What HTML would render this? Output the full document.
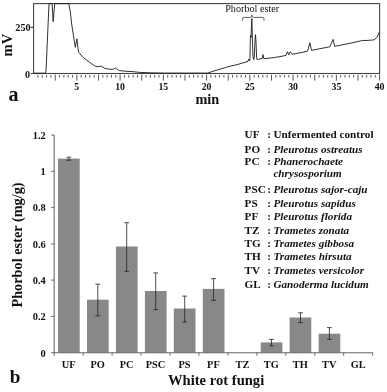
<!DOCTYPE html>
<html><head><meta charset="utf-8"><title>Phorbol ester</title>
<style>
html,body{margin:0;padding:0;background:#fff}
svg{display:block;will-change:transform;opacity:0.999}
text{font-family:"Liberation Serif","DejaVu Serif",serif;fill:#111}
</style></head><body>
<svg width="387" height="392" viewBox="0 0 387 392">
<rect width="387" height="392" fill="#fff"/>
<g fill="none" stroke="#444" stroke-width="1.1">
<rect x="33.6" y="3.6" width="346.0" height="69.9"/>
<path d="M37.93,75.1v2.5M42.25,75.1v2.5M46.58,75.1v2.5M50.90,75.1v2.5M55.23,74.6v6M59.55,75.1v2.5M63.88,75.1v2.5M68.20,75.1v2.5M72.53,75.1v2.5M76.85,74.6v6M81.18,75.1v2.5M85.50,75.1v2.5M89.83,75.1v2.5M94.15,75.1v2.5M98.47,74.6v6M102.80,75.1v2.5M107.12,75.1v2.5M111.45,75.1v2.5M115.78,75.1v2.5M120.10,74.6v6M124.43,75.1v2.5M128.75,75.1v2.5M133.08,75.1v2.5M137.40,75.1v2.5M141.72,74.6v6M146.05,75.1v2.5M150.38,75.1v2.5M154.70,75.1v2.5M159.03,75.1v2.5M163.35,74.6v6M167.68,75.1v2.5M172.00,75.1v2.5M176.32,75.1v2.5M180.65,75.1v2.5M184.97,74.6v6M189.30,75.1v2.5M193.62,75.1v2.5M197.95,75.1v2.5M202.28,75.1v2.5M206.60,74.6v6M210.93,75.1v2.5M215.25,75.1v2.5M219.57,75.1v2.5M223.90,75.1v2.5M228.22,74.6v6M232.55,75.1v2.5M236.88,75.1v2.5M241.20,75.1v2.5M245.53,75.1v2.5M249.85,74.6v6M254.18,75.1v2.5M258.50,75.1v2.5M262.83,75.1v2.5M267.15,75.1v2.5M271.48,74.6v6M275.80,75.1v2.5M280.12,75.1v2.5M284.45,75.1v2.5M288.78,75.1v2.5M293.10,74.6v6M297.43,75.1v2.5M301.75,75.1v2.5M306.08,75.1v2.5M310.40,75.1v2.5M314.73,74.6v6M319.05,75.1v2.5M323.38,75.1v2.5M327.70,75.1v2.5M332.03,75.1v2.5M336.35,74.6v6M340.68,75.1v2.5M345.00,75.1v2.5M349.33,75.1v2.5M353.65,75.1v2.5M357.98,74.6v6M362.30,75.1v2.5M366.63,75.1v2.5M370.95,75.1v2.5M375.28,75.1v2.5M379.60,74.6v6" stroke="#555" stroke-width="1"/>
<path d="M30.8,27.4h2.8M30.8,73.5h2.8"/>
<polyline points="33.8,73.2 45.4,73.2 45.9,72.0 46.5,60.0 49.0,3.6 52.1,3.6 53.2,21.7 54.7,3.6 68.7,3.6 70.2,11.0 71.8,25.0 75.3,47.3 76.9,38.8 78.5,52.2 81.9,56.0 83.4,57.6 86.5,59.9 89.6,62.3 92.5,64.5 95.8,66.5 98.9,66.6 101.0,66.0 103.0,67.3 105.1,68.5 108.5,69.0 112.4,69.5 115.5,68.1 117.5,69.5 119.6,70.6 125.0,71.2 132.0,71.6 140.2,72.4 150.0,72.8 165.0,73.1 207.7,73.1 212.0,71.6 217.5,69.9 225.3,67.6 230.8,66.0 236.0,64.9 241.7,63.3 246.0,62.0 248.0,61.3 248.6,59.0 249.4,60.8 249.9,60.5 250.4,37.0 250.7,35.3 251.0,37.5 251.3,30.0 251.8,18.5 252.3,35.0 252.9,55.0 253.4,59.3 253.8,59.8 254.3,57.0 255.0,40.0 255.5,34.6 256.0,42.0 256.6,57.0 257.2,59.8 258.5,59.3 260.7,58.8 262.2,58.5 263.0,54.6 263.8,58.6 265.0,58.7 274.2,57.5 280.0,56.6 286.0,55.4 287.5,51.8 288.8,54.8 290.5,51.8 292.2,54.3 300.0,52.8 307.6,51.2 309.9,42.7 311.5,50.4 320.0,48.7 329.8,46.8 333.1,39.4 334.7,46.3 349.1,43.5 360.2,41.0 362.9,40.4 366.0,40.5 374.0,39.9 377.3,37.1 379.0,32.4" stroke="#1a1a1a" stroke-width="0.9" stroke-linejoin="round"/>
<path d="M242.6,20.6v-1.6q0,-1.6 1.6,-1.6h6q1.5,0 1.55,-2.3q0.05,2.3 1.55,2.3h9.1q1.6,0 1.6,1.6v1.6" stroke-width="0.8" stroke="#333"/>
</g>
<g font-weight="bold" font-size="9.8"><text x="76.8" y="89.8" text-anchor="middle">5</text><text x="120.1" y="89.8" text-anchor="middle">10</text><text x="163.3" y="89.8" text-anchor="middle">15</text><text x="206.6" y="89.8" text-anchor="middle">20</text><text x="249.8" y="89.8" text-anchor="middle">25</text><text x="293.1" y="89.8" text-anchor="middle">30</text><text x="336.4" y="89.8" text-anchor="middle">35</text><text x="379.6" y="89.8" text-anchor="middle">40</text>
<text x="30.6" y="31" text-anchor="end" font-size="10.2">250</text>
<text x="30.2" y="77.5" text-anchor="end" font-size="10.2">0</text>
</g>
<text x="225.2" y="11.9" font-size="10.2" fill="#222">Phorbol ester</text>
<text transform="translate(12,56.4) rotate(-90)" font-size="14.6" font-weight="bold">mV</text>
<text x="195.4" y="104.4" font-size="14.3" font-weight="bold">min</text>
<text x="8.6" y="100.5" font-size="20" font-weight="bold">a</text>
<text x="9.8" y="382.7" font-size="19.2" font-weight="bold">b</text>
<g fill="#888"><rect x="58.0" y="158.6" width="21.7" height="194.1"/><rect x="87.0" y="299.7" width="21.7" height="53.0"/><rect x="115.9" y="246.5" width="21.7" height="106.2"/><rect x="144.9" y="291.0" width="21.7" height="61.7"/><rect x="173.8" y="308.5" width="21.7" height="44.2"/><rect x="202.8" y="288.9" width="21.7" height="63.8"/><rect x="260.7" y="342.4" width="21.7" height="10.3"/><rect x="289.6" y="317.5" width="21.7" height="35.2"/><rect x="318.6" y="333.7" width="21.7" height="19.0"/></g>
<g fill="none" stroke="#777" stroke-width="1.2"><path d="M54.2,135.0V352.7"/><path d="M53.6,352.7H372.6" stroke="#666" stroke-width="1.1"/><path d="M54.2,352.7v3M83.2,352.7v3M112.1,352.7v3M141.1,352.7v3M170.0,352.7v3M198.9,352.7v3M227.9,352.7v3M256.9,352.7v3M285.8,352.7v3M314.8,352.7v3M343.7,352.7v3M372.6,352.7v3M54.2,352.7h-3M54.2,316.4h-3M54.2,280.1h-3M54.2,243.9h-3M54.2,207.6h-3M54.2,171.3h-3M54.2,135.0h-3" stroke-width="1" stroke="#666"/></g>
<path d="M68.8,157.2V160.2M66.4,157.2h4.8M66.4,160.2h4.8M97.8,284.2V315.8M95.4,284.2h4.8M95.4,315.8h4.8M126.7,222.7V271.3M124.3,222.7h4.8M124.3,271.3h4.8M155.7,272.9V309.6M153.3,272.9h4.8M153.3,309.6h4.8M184.7,296.1V322.0M182.2,296.1h4.8M182.2,322.0h4.8M213.6,278.6V300.3M211.2,278.6h4.8M211.2,300.3h4.8M271.5,339.4V345.8M269.1,339.4h4.8M269.1,345.8h4.8M300.5,312.8V322.6M298.1,312.8h4.8M298.1,322.6h4.8M329.4,327.6V339.4M327.0,327.6h4.8M327.0,339.4h4.8" fill="none" stroke="#222" stroke-width="0.8"/>
<g font-weight="bold" font-size="10.4"><text x="68.7" y="368.4" text-anchor="middle">UF</text><text x="97.6" y="368.4" text-anchor="middle">PO</text><text x="126.6" y="368.4" text-anchor="middle">PC</text><text x="155.5" y="368.4" text-anchor="middle">PSC</text><text x="184.5" y="368.4" text-anchor="middle">PS</text><text x="213.4" y="368.4" text-anchor="middle">PF</text><text x="242.4" y="368.4" text-anchor="middle">TZ</text><text x="271.3" y="368.4" text-anchor="middle">TG</text><text x="300.3" y="368.4" text-anchor="middle">TH</text><text x="329.2" y="368.4" text-anchor="middle">TV</text><text x="358.2" y="368.4" text-anchor="middle">GL</text><text x="45.8" y="356.5" text-anchor="end">0</text><text x="45.8" y="320.2" text-anchor="end">0.2</text><text x="45.8" y="283.9" text-anchor="end">0.4</text><text x="45.8" y="247.7" text-anchor="end">0.6</text><text x="45.8" y="211.4" text-anchor="end">0.8</text><text x="45.8" y="175.1" text-anchor="end">1</text><text x="45.8" y="138.8" text-anchor="end">1.2</text></g>
<text transform="translate(22.3,307.6) rotate(-90)" font-size="14.3" font-weight="bold">Phorbol ester (mg/g)</text>
<text x="168" y="384.6" font-size="14.6" font-weight="bold">White rot fungi</text>
<g font-weight="bold" font-size="11.2"><text x="244.6" y="138.3">UF</text><text x="267.2" y="138.3">:</text><text x="273.4" y="138.3">Unfermented control</text><text x="244.6" y="152.6">PO</text><text x="267.2" y="152.6">:</text><text x="273.4" y="152.6" font-style="italic">Pleurotus ostreatus</text><text x="244.6" y="165.3">PC</text><text x="267.2" y="165.3">:</text><text x="273.4" y="165.3" font-style="italic">Phanerochaete</text><text x="273.4" y="177.3" font-style="italic">chrysosporium</text><text x="244.6" y="193.0">PSC</text><text x="267.2" y="193.0">:</text><text x="273.4" y="193.0" font-style="italic">Pleurotus sajor-caju</text><text x="244.6" y="206.6">PS</text><text x="267.2" y="206.6">:</text><text x="273.4" y="206.6" font-style="italic">Pleurotus sapidus</text><text x="244.6" y="220.3">PF</text><text x="267.2" y="220.3">:</text><text x="273.4" y="220.3" font-style="italic">Pleurotus florida</text><text x="244.6" y="233.7">TZ</text><text x="267.2" y="233.7">:</text><text x="273.4" y="233.7" font-style="italic">Trametes zonata</text><text x="244.6" y="246.9">TG</text><text x="267.2" y="246.9">:</text><text x="273.4" y="246.9" font-style="italic">Trametes gibbosa</text><text x="244.6" y="260.2">TH</text><text x="267.2" y="260.2">:</text><text x="273.4" y="260.2" font-style="italic">Trametes hirsuta</text><text x="244.6" y="273.8">TV</text><text x="267.2" y="273.8">:</text><text x="273.4" y="273.8" font-style="italic">Trametes versicolor</text><text x="244.6" y="288.3">GL</text><text x="267.2" y="288.3">:</text><text x="273.4" y="288.3" font-style="italic">Ganoderma lucidum</text></g>
</svg>
</body></html>
